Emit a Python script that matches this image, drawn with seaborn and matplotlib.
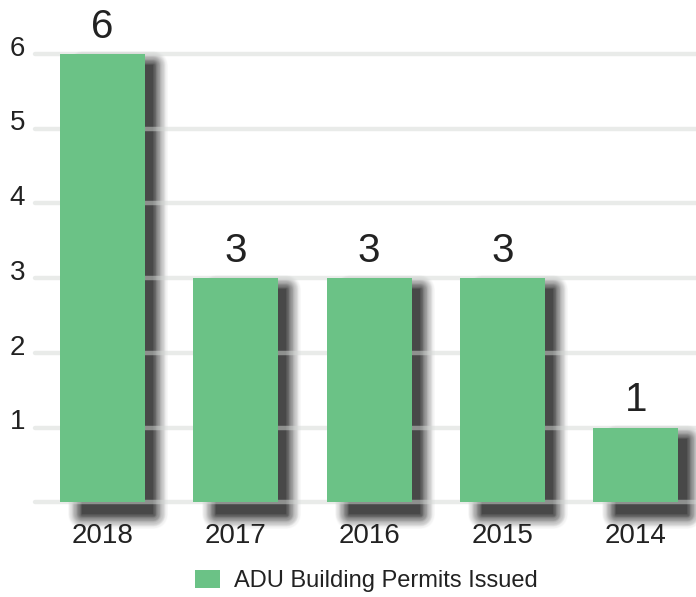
import matplotlib
matplotlib.use("Agg")
import matplotlib.pyplot as plt
from matplotlib.transforms import ScaledTranslation
import pandas as pd
import seaborn as sns

# chart data
years = ["2018", "2017", "2016", "2015", "2014"]
permits = [6, 3, 3, 3, 1]
series_name = "ADU Building Permits Issued"
y_ticks = [0, 1, 2, 3, 4, 5, 6]
y_tick_labels = ["", "1", "2", "3", "4", "5", "6"]

GREEN = "#6bc286"
GRID = "#d4d8d5"
TEXT = "#222222"

sns.set_theme(style="white")
plt.rcParams["font.family"] = ["Liberation Sans", "DejaVu Sans"]

df = pd.DataFrame({"year": years, "permits": permits, "series": series_name})

fig = plt.figure(figsize=(6.96, 5.97), dpi=100)
ax = fig.add_axes([0.0503, 0.1521, 0.9497, 0.7637])

# soft drop shadow: stacked copies of the bars, wide+light outside, narrow+dark inside
shadow_shift = ScaledTranslation(11 / 72, -8 / 72, fig.dpi_scale_trans)
n_layers = 20
for i in range(n_layers):
    t = (i / (n_layers - 1)) ** 1.2
    g = (255 - (255 - 72) * t) / 255
    lw = 22 * (1 - i / (n_layers - 1))
    sns.barplot(data=df, x="year", y="permits", order=years, color=(g, g, g),
                width=0.532, saturation=1, linewidth=lw, edgecolor=(g, g, g),
                zorder=0.2 + i * 0.001, ax=ax)
    for p in ax.containers[-1]:
        p.set_transform(ax.transData + shadow_shift)
        p.set_clip_on(False)
        p.set_joinstyle("round")

# main bars
sns.barplot(data=df, x="year", y="permits", order=years, hue="series",
            palette=[GREEN], width=0.637, saturation=1, linewidth=0,
            legend=True, ax=ax)
main_bars = ax.containers[-1]
for p in main_bars:
    p.set_zorder(2)
ax.bar_label(main_bars, labels=[str(v) for v in permits],
             padding=6, fontsize=29, color=TEXT)

ax.set_xlim(-0.505, 4.451)
ax.set_ylim(-0.05, 6.05)
ax.set_yticks(y_ticks)
ax.set_yticklabels(y_tick_labels)
ax.yaxis.grid(True, color=GRID, linewidth=3.2, alpha=0.5)
ax.xaxis.grid(False)
ax.set_axisbelow(True)
for line in ax.get_ygridlines():
    line.set_clip_on(False)

ax.set_xlabel("")
ax.set_ylabel("")
sns.despine(ax=ax, left=True, bottom=True)
ax.tick_params(axis="x", length=0, pad=12, labelsize=20, labelcolor=TEXT)
ax.tick_params(axis="y", length=0, pad=7, labelsize=20, labelcolor=TEXT)
for lbl in ax.get_yticklabels():
    lbl.set_transform(lbl.get_transform() + ScaledTranslation(0, 6 / 72, fig.dpi_scale_trans))

sns.move_legend(ax, "center", bbox_to_anchor=(0.502, -0.164), title=None,
                frameon=False, fontsize=17, handlelength=1.05, handleheight=0.8,
                handletextpad=0.6, labelcolor=TEXT)

fig.savefig("out.png", dpi=100)
